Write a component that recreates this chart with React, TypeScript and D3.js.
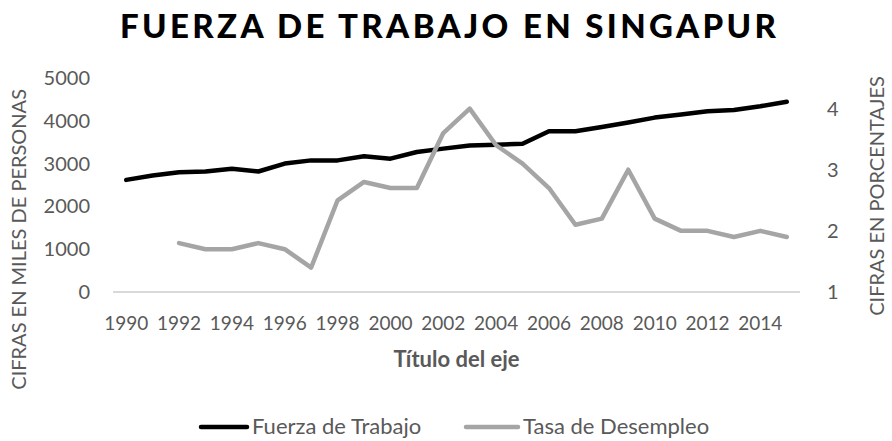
import React, { useEffect, useRef } from 'react';
import * as d3 from 'd3';

const years = d3.range(1990, 2016).map(String);
const fuerzaTrabajo = [2620, 2720, 2800, 2815, 2880, 2815, 3000, 3075, 3075, 3170, 3115, 3270, 3350, 3425, 3440, 3465, 3755, 3755, 3855, 3960, 4075, 4145, 4225, 4250, 4340, 4445];
const tasaDesempleo: (number | null)[] = [null, null, 1.8, 1.7, 1.7, 1.8, 1.7, 1.4, 2.5, 2.8, 2.7, 2.7, 3.6, 4.0, 3.4, 3.1, 2.7, 2.1, 2.2, 3.0, 2.2, 2.0, 2.0, 1.9, 2.0, 1.9];
const leftTicks = [0, 1000, 2000, 3000, 4000, 5000];
const rightTicks = [1, 2, 3, 4];
const xTickLabels = years.filter((_, i) => i % 2 === 0);

const W = 892;
const H = 441;
const FONT = 'Lato, "Open Sans", sans-serif';
const TEXT = '#595959';

function App() {
  const ref = useRef<SVGSVGElement>(null);

  useEffect(() => {
    const svg = d3.select(ref.current);
    svg.selectAll('*').remove();

    const plot = { left: 113, right: 800, top: 78, bottom: 292 };

    const x = d3.scaleBand().domain(years).range([plot.left, plot.right]);
    const cx = (d: string) => (x(d) as number) + x.bandwidth() / 2;
    const yL = d3.scaleLinear().domain([0, 5000]).range([plot.bottom, plot.top]);
    const yR = d3.scaleLinear().domain([1, 4.5]).range([plot.bottom, plot.top]);

    // title
    svg.append('text')
      .attr('x', 448).attr('y', 38)
      .attr('text-anchor', 'middle')
      .attr('font-family', FONT).attr('font-weight', 900).attr('font-size', 33)
      .attr('textLength', 656).attr('lengthAdjust', 'spacing')
      .attr('fill', '#000')
      .text('FUERZA DE TRABAJO EN SINGAPUR');

    // left axis labels
    svg.append('g').selectAll('text').data(leftTicks).enter().append('text')
      .attr('x', 90).attr('y', d => yL(d)).attr('dy', '0.35em')
      .attr('text-anchor', 'end')
      .attr('font-family', FONT).attr('font-size', 20).attr('fill', TEXT)
      .text(d => d);

    // right axis labels
    svg.append('g').selectAll('text').data(rightTicks).enter().append('text')
      .attr('x', 827).attr('y', d => yR(d)).attr('dy', '0.35em')
      .attr('text-anchor', 'start')
      .attr('font-family', FONT).attr('font-size', 20).attr('fill', TEXT)
      .text(d => d);

    // x axis line
    svg.append('line')
      .attr('x1', plot.left).attr('x2', plot.right)
      .attr('y1', plot.bottom).attr('y2', plot.bottom)
      .attr('stroke', '#d9d9d9').attr('stroke-width', 2);

    // x tick labels
    svg.append('g').selectAll('text').data(xTickLabels).enter().append('text')
      .attr('x', d => cx(d)).attr('y', 330)
      .attr('text-anchor', 'middle')
      .attr('font-family', FONT).attr('font-size', 19).attr('fill', TEXT)
      .text(d => d);

    // axis titles
    svg.append('text')
      .attr('x', (plot.left + plot.right) / 2).attr('y', 367)
      .attr('text-anchor', 'middle')
      .attr('font-family', FONT).attr('font-weight', 'bold').attr('font-size', 22).attr('fill', TEXT)
      .text('Título del eje');

    svg.append('text')
      .attr('transform', 'translate(26,89) rotate(-90)')
      .attr('text-anchor', 'end')
      .attr('font-family', FONT).attr('font-size', 20).attr('fill', TEXT)
      .text('CIFRAS EN MILES DE PERSONAS');

    svg.append('text')
      .attr('transform', 'translate(884,196) rotate(-90)')
      .attr('text-anchor', 'middle')
      .attr('font-family', FONT).attr('font-size', 20).attr('fill', TEXT)
      .text('CIFRAS EN PORCENTAJES');

    // lines
    const lineL = d3.line<number>()
      .x((_, i) => cx(years[i]))
      .y(d => yL(d));
    const lineR = d3.line<number | null>()
      .defined(d => d !== null)
      .x((_, i) => cx(years[i]))
      .y(d => yR(d as number));

    svg.append('path')
      .datum(fuerzaTrabajo)
      .attr('d', lineL)
      .attr('fill', 'none').attr('stroke', '#000').attr('stroke-width', 4.5)
      .attr('stroke-linecap', 'round').attr('stroke-linejoin', 'round');

    svg.append('path')
      .datum(tasaDesempleo)
      .attr('d', lineR)
      .attr('fill', 'none').attr('stroke', '#a5a5a5').attr('stroke-width', 4.5)
      .attr('stroke-linecap', 'round').attr('stroke-linejoin', 'round');

    // legend
    const legend = [
      { label: 'Fuerza de Trabajo', color: '#000', x0: 201, x1: 247 },
      { label: 'Tasa de Desempleo', color: '#a5a5a5', x0: 466, x1: 518 },
    ];
    const lg = svg.append('g').selectAll('g').data(legend).enter().append('g');
    lg.append('line')
      .attr('x1', d => d.x0).attr('x2', d => d.x1)
      .attr('y1', 427).attr('y2', 427)
      .attr('stroke', d => d.color).attr('stroke-width', 4.5)
      .attr('stroke-linecap', 'round');
    lg.append('text')
      .attr('x', d => d.x1 + 5).attr('y', 434)
      .attr('font-family', FONT).attr('font-size', 22).attr('fill', TEXT)
      .text(d => d.label);
  }, []);

  return (
    <svg ref={ref} width={W} height={H}
      style={{ position: 'absolute', left: 0, top: 0, background: '#fff' }} />
  );
}

export default App;
